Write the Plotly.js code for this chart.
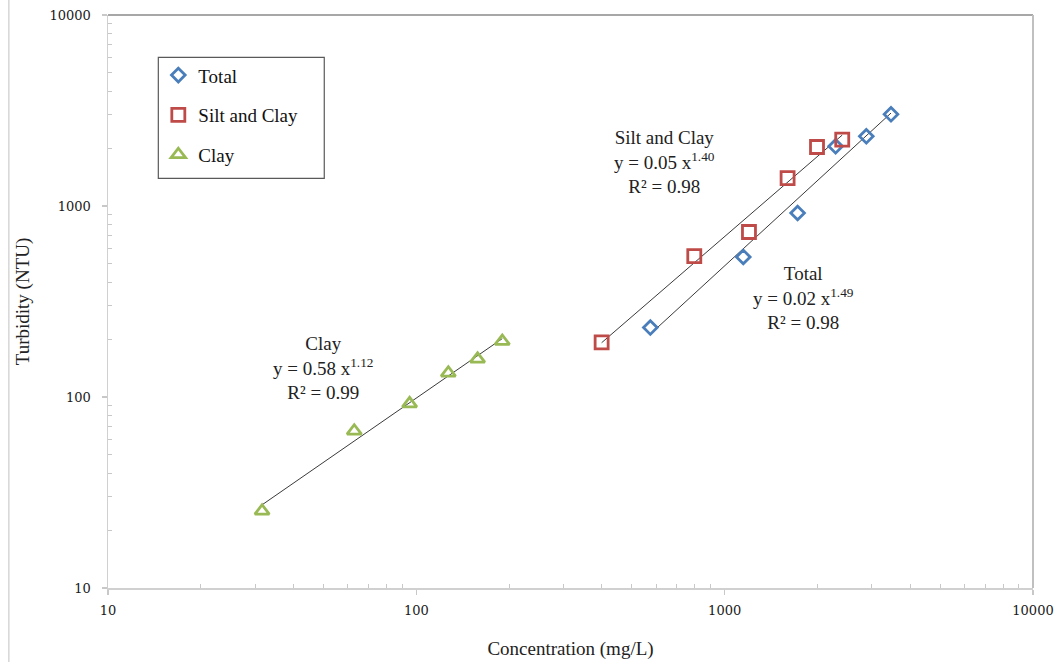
<!DOCTYPE html>
<html>
<head>
<meta charset="utf-8">
<script src="https://cdn.plot.ly/plotly-3.0.1.min.js"></script>
<style>
  html, body { margin: 0; padding: 0; background: #ffffff; }
  #chart { width: 1057px; height: 662px; }
</style>
</head>
<body>
<div id="chart"></div>
<script>
// Sediment concentration (mg/L) versus turbidity (NTU)
const totalConc = [574, 1149, 1724, 2290, 2880, 3463];
const totalTurb = [231, 541, 919, 2054, 2317, 3021];

const siltClayConc = [399, 797, 1199, 1600, 1993, 2406];
const siltClayTurb = [193, 547, 731, 1401, 2036, 2226];

const clayConc = [31.6, 62.9, 95.1, 127, 158, 190];
const clayTurb = [25.3, 66.4, 92.3, 133.6, 158, 196];

const seriesNames = ['Total', 'Silt and Clay', 'Clay'];
const fitLabels = [
  'Total<br>y = 0.02 x<sup>1.49</sup><br>R² = 0.98',
  'Silt and Clay<br>y = 0.05 x<sup>1.40</sup><br>R² = 0.98',
  'Clay<br>y = 0.58 x<sup>1.12</sup><br>R² = 0.99'
];

const tickValues = [10, 100, 1000, 10000];
const tickLabels = ['10', '100', '1000', '10000'];

const serif = 'Liberation Serif, Times New Roman, serif';
const tickSerif = 'DejaVu Serif, serif';

// Least-squares power fit (linear in log-log space), drawn over the data range
function powerFit(xs, ys) {
  const lx = xs.map(Math.log10), ly = ys.map(Math.log10);
  const n = lx.length;
  const mx = lx.reduce((a, b) => a + b, 0) / n;
  const my = ly.reduce((a, b) => a + b, 0) / n;
  let sxy = 0, sxx = 0;
  for (let i = 0; i < n; i++) { sxy += (lx[i] - mx) * (ly[i] - my); sxx += (lx[i] - mx) ** 2; }
  const b = sxy / sxx, a = my - b * mx;
  const x0 = Math.min(...xs), x1 = Math.max(...xs);
  return { x: [x0, x1], y: [x0, x1].map(v => Math.pow(10, a + b * Math.log10(v))) };
}

function fitTrace(xs, ys) {
  const f = powerFit(xs, ys);
  return { x: f.x, y: f.y, mode: 'lines', type: 'scatter', showlegend: false,
           hoverinfo: 'skip', line: { color: '#3a3a3a', width: 1 } };
}

const markerTrace = (xs, ys, name, symbol, color, size) => ({
  x: xs, y: ys, name: name, legendgroup: name, mode: 'markers', type: 'scatter',
  marker: { symbol: symbol, size: size, color: color, line: { color: color, width: 2.8 } }
});

const traces = [
  fitTrace(totalConc, totalTurb),
  fitTrace(siltClayConc, siltClayTurb),
  fitTrace(clayConc, clayTurb),
  markerTrace(totalConc, totalTurb, seriesNames[0], 'diamond-open', '#4a7ebb', 10.5),
  markerTrace(siltClayConc, siltClayTurb, seriesNames[1], 'square-open', '#be4b48', 13),
  markerTrace(clayConc, clayTurb, seriesNames[2], 'triangle-up-open', '#98b954', 12.5)
];

// minor tick positions 2..9 within each decade
const minorVals = [];
for (let d = 10; d < 10000; d *= 10) for (let k = 2; k <= 9; k++) minorVals.push(d * k);

const axisCommon = {
  type: 'log',
  tickmode: 'array',
  tickvals: tickValues,
  ticktext: tickLabels,
  ticks: 'outside', ticklen: 5, tickcolor: '#c8c8c8', tickwidth: 1.5,
  showline: true, linecolor: '#d0d0d0', linewidth: 1.5,
  showgrid: false, zeroline: false,
  tickfont: { family: tickSerif, size: 13, color: '#1a1a1a' },
  minor: { tickmode: 'array', tickvals: minorVals, ticks: 'inside', ticklen: 4,
           tickcolor: '#c8c8c8', tickwidth: 1, showgrid: false }
};

const layout = {
  width: 1057, height: 662,
  margin: { l: 108, r: 24, t: 15, b: 74 },
  paper_bgcolor: '#ffffff', plot_bgcolor: '#ffffff',
  font: { family: serif, color: '#222222' },
  showlegend: true,
  xaxis: Object.assign({}, axisCommon, {
    range: [1, 4], ticklabelstandoff: 5,
    title: { text: 'Concentration (mg/L)', font: { family: serif, size: 19, color: '#222222' }, standoff: 24 }
  }),
  yaxis: Object.assign({}, axisCommon, {
    range: [1, 4], ticklabelstandoff: 8,
    title: { text: 'Turbidity (NTU)', font: { family: serif, size: 19, color: '#222222' }, standoff: 15 }
  }),
  legend: {
    x: 0.0544, xanchor: 'left', y: 0.928, yanchor: 'top',
    bgcolor: 'rgba(0,0,0,0)', borderwidth: 0,
    font: { family: serif, size: 19, color: '#111111' },
    tracegroupgap: 12
  },
  shapes: [
    // legend frame
    { type: 'rect', xref: 'paper', yref: 'paper', x0: 0.0544, x1: 0.2338, y0: 0.715, y1: 0.926,
      line: { color: '#595959', width: 1.2 }, fillcolor: 'rgba(0,0,0,0)' },
    // top border of plot area
    { type: 'line', xref: 'paper', yref: 'paper', x0: 0, x1: 1, y0: 1, y1: 1,
      line: { color: '#8a8a8a', width: 1.5 } },
    // right border of plot area
    { type: 'line', xref: 'paper', yref: 'paper', x0: 1, x1: 1, y0: 0, y1: 1,
      line: { color: '#c0c0c0', width: 2 } },
    // outer chart edge on the left
    { type: 'line', xref: 'paper', yref: 'paper', x0: -0.1072, x1: -0.1072, y0: -0.13, y1: 1.03,
      line: { color: '#d6d6d6', width: 1.5 } }
  ],
  annotations: [
    { xref: 'paper', yref: 'paper', x: 0.7517, y: 0.5056, text: fitLabels[0], showarrow: false,
      xanchor: 'center', yanchor: 'middle', align: 'center',
      font: { family: serif, size: 19, color: '#222222' } },
    { xref: 'paper', yref: 'paper', x: 0.6014, y: 0.743, text: fitLabels[1], showarrow: false,
      xanchor: 'center', yanchor: 'middle', align: 'center',
      font: { family: serif, size: 19, color: '#222222' } },
    { xref: 'paper', yref: 'paper', x: 0.2328, y: 0.3845, text: fitLabels[2], showarrow: false,
      xanchor: 'center', yanchor: 'middle', align: 'center',
      font: { family: serif, size: 19, color: '#222222' } }
  ]
};

Plotly.newPlot('chart', traces, layout, { displayModeBar: false, staticPlot: true });
</script>
</body>
</html>
